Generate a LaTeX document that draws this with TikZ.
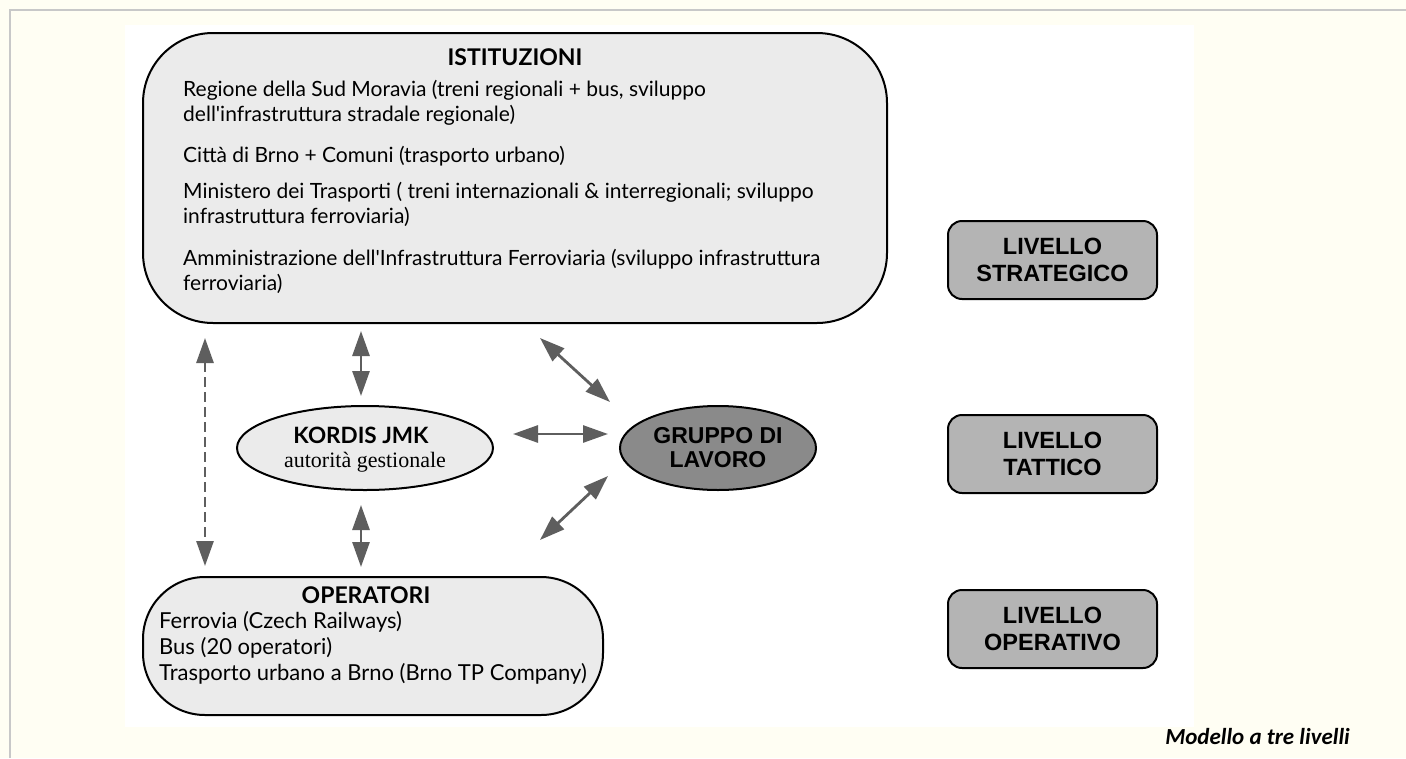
\documentclass[tikz,border=0pt]{standalone}
\usepackage{fontspec}
\usetikzlibrary{arrows.meta,shapes.geometric}
\newfontfamily\gillf{Lato}
\newfontfamily\arialf{Liberation Sans}
\newfontfamily\serf{Liberation Serif}
\newfontfamily\calibf{Carlito}
\definecolor{cream}{HTML}{FFFEF3}
\definecolor{framegray}{HTML}{C8C8C8}
\definecolor{boxfill}{HTML}{EBEBEB}
\definecolor{darkfill}{HTML}{8A8A8A}
\definecolor{levelfill}{HTML}{B4B4B4}
\definecolor{arrowgray}{HTML}{5E5E5E}
\begin{document}
\begin{tikzpicture}[x=1pt,y=-1pt,
  bigbox/.style={draw=black, line width=2pt, fill=boxfill, inner sep=0pt},
  levelbox/.style={draw=black, line width=2pt, fill=levelfill, rounded corners=14pt,
    minimum width=209pt, minimum height=78pt, inner sep=0pt, align=center,
    font=\arialf\bfseries\fontsize{23.5}{27}\selectfont},
  bodytext/.style={anchor=base west, inner sep=0pt, font=\gillf\fontsize{21}{25}\selectfont},
  optext/.style={anchor=base west, inner sep=0pt, font=\gillf\fontsize{22}{26}\selectfont},
  titletext/.style={inner sep=0pt, font=\gillf\bfseries\fontsize{23}{26}\selectfont},
  arr/.style={draw=arrowgray, line width=2.8pt,
    {Triangle[length=25pt,width=17pt]}-{Triangle[length=25pt,width=17pt]}}
]
\useasboundingbox (0,0) rectangle (1406,758);
\fill[cream] (0,0) rectangle (1406,758);
\draw[framegray, line width=2pt] (10,758) -- (10,10) -- (1406,10);
\fill[white] (125,25) rectangle (1194,727);

% ISTITUZIONI
\node[bigbox, rounded corners=70pt, minimum width=744pt, minimum height=290pt] (ist) at (515,178) {};
\node[titletext] (istT) at (515,57) {ISTITUZIONI};
\node[bodytext] (i1) at (183,96) {Regione della Sud Moravia (treni regionali + bus, sviluppo};
\node[bodytext] (i2) at (183,121) {dell'infrastruttura stradale regionale)};
\node[bodytext] (i3) at (183,162) {Città di Brno + Comuni (trasporto urbano)};
\node[bodytext] (i4) at (183,198) {Ministero dei Trasporti ( treni internazionali \& interregionali; sviluppo};
\node[bodytext] (i5) at (183,223) {infrastruttura ferroviaria)};
\node[bodytext] (i6) at (183,265) {Amministrazione dell'Infrastruttura Ferroviaria (sviluppo infrastruttura};
\node[bodytext] (i7) at (183,290) {ferroviaria)};

% KORDIS
\node[ellipse, draw=black, line width=2pt, fill=boxfill, minimum width=256pt, minimum height=84pt,
  inner sep=0pt] (kor) at (365,448) {};
\node[inner sep=0pt, font=\gillf\bfseries\fontsize{22.5}{26}\selectfont] (korT) at (361,435) {KORDIS JMK};
\node[inner sep=0pt, font=\serf\fontsize{22}{26}\selectfont] (korS) at (365,462) {autorità gestionale};

% GRUPPO DI LAVORO
\node[ellipse, draw=black, line width=2pt, fill=darkfill, minimum width=196pt, minimum height=84pt,
  inner sep=0pt, align=center, font=\arialf\bfseries\fontsize{23}{24}\selectfont] (grp) at (718,448)
  {GRUPPO DI\\LAVORO};

% OPERATORI
\node[bigbox, rounded corners=62pt, minimum width=460pt, minimum height=138pt] (op) at (373,646) {};
\node[titletext] (opT) at (366,595) {OPERATORI};
\node[optext] (o1) at (159,628) {Ferrovia (Czech Railways)};
\node[optext] (o2) at (159,654) {Bus (20 operatori)};
\node[optext] (o3) at (159,680) {Trasporto urbano a Brno (Brno TP Company)};

% LIVELLI
\node[levelbox] (lvS) at (1052.5,260) {LIVELLO\\STRATEGICO};
\node[levelbox] (lvT) at (1052.5,454) {LIVELLO\\TATTICO};
\node[levelbox] (lvO) at (1052.5,629) {LIVELLO\\OPERATIVO};

\node[anchor=base east, inner sep=0pt, font=\calibf\bfseries\itshape\fontsize{23}{27}\selectfont] (cap) at (1350,744) {Modello a tre livelli};

% connectors
\coordinate (d1a) at (540,338);
\coordinate (d1b) at (610,402);
\coordinate (ha) at (513,434);
\coordinate (hb) at (608,434);
\coordinate (d2a) at (608,476);
\coordinate (d2b) at (540,540);

\draw[arr, shorten <=7pt, shorten >=9pt] ([xshift=-4pt]ist.south -| kor.north) -- ([xshift=-4pt]kor.north);
\draw[arr, shorten <=14pt, shorten >=9pt] ([xshift=-4pt]kor.south) -- ([xshift=-4pt]kor.south |- op.north);
\draw[arr, dash pattern=on 10pt off 5pt, shorten <=14pt, shorten >=10pt] ([xshift=63pt]ist.south west) -- ([xshift=63pt]op.north west);
\draw[arr] (d1a) -- (d1b);
\draw[arr] (ha) -- (hb);
\draw[arr] (d2a) -- (d2b);
\end{tikzpicture}
\end{document}
